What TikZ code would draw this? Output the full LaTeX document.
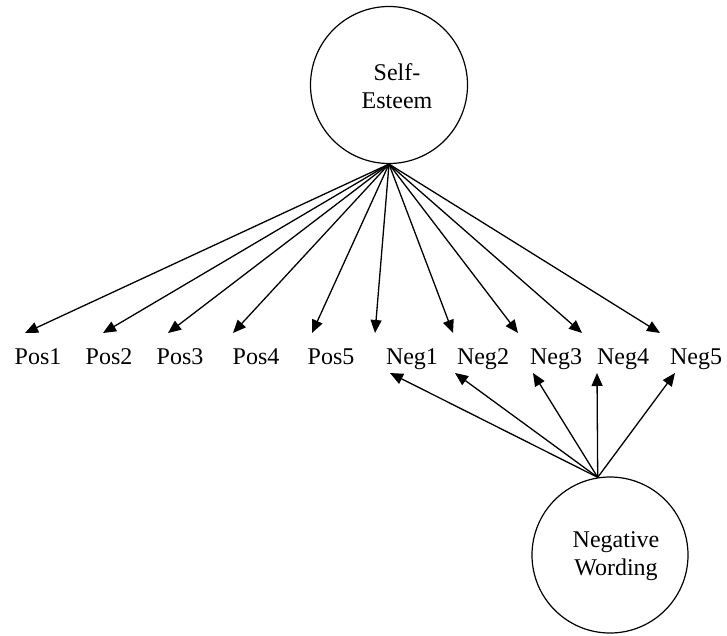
\documentclass[tikz,border=0pt]{standalone}
\usepackage{fontspec}
\setmainfont{Liberation Serif}
\usetikzlibrary{arrows.meta}
\begin{document}
\begin{tikzpicture}[x=1pt,y=1pt,
  font=\fontsize{24pt}{28pt}\selectfont,
  factor/.style={circle, draw, line width=1.2pt, minimum size=#1, inner sep=0pt},
  ftext/.style={align=center, inner sep=0pt},
  item/.style={anchor=base, inner sep=0pt},
  path/.style={line width=1.3pt, -{Triangle[length=13pt,width=11pt]}}]
\useasboundingbox (0,0) rectangle (727,-635);

% latent factors
\node[factor=157pt] (se) at (389,-85) {};
\node[ftext] (setext) at (397,-86) {Self-\\Esteem};
\node[factor=156pt] (nw) at (610,-555) {};
\node[ftext] (nwtext) at (616,-556) {Negative\\Wording};

% indicators
\node[item] (pos1) at (38,-364) {Pos1};
\node[item] (pos2) at (109,-364) {Pos2};
\node[item] (pos3) at (180,-364) {Pos3};
\node[item] (pos4) at (256,-364) {Pos4};
\node[item] (pos5) at (331,-364) {Pos5};
\node[item] (neg1) at (412,-364) {Neg1};
\node[item] (neg2) at (483,-364) {Neg2};
\node[item] (neg3) at (556,-364) {Neg3};
\node[item] (neg4) at (623,-364) {Neg4};
\node[item] (neg5) at (696,-364) {Neg5};

% arrow tips above the indicators
\coordinate (tp1) at (25,-333);
\coordinate (tp2) at (103,-333);
\coordinate (tp3) at (168,-333);
\coordinate (tp4) at (233,-333);
\coordinate (tp5) at (312,-333);
\coordinate (tn1) at (375,-333);
\coordinate (tn2) at (453,-333);
\coordinate (tn3) at (518,-333);
\coordinate (tn4) at (582,-333);
\coordinate (tn5) at (660,-333);

% arrow tips below the negative indicators
\coordinate (bn1) at (390,-373);
\coordinate (bn2) at (455,-373);
\coordinate (bn3) at (533,-373);
\coordinate (bn4) at (597,-373);
\coordinate (bn5) at (675,-373);

\coordinate (sefoot) at (se.south);
\coordinate (nwtop) at (nw.99);

% loadings on Self-Esteem
\foreach \t in {tp1,tp2,tp3,tp4,tp5,tn1,tn2,tn3,tn4,tn5}
  \draw[path] (sefoot) -- (\t);

% loadings on Negative Wording
\foreach \t in {bn1,bn2,bn3,bn4,bn5}
  \draw[path] (nwtop) -- (\t);
\end{tikzpicture}
\end{document}
